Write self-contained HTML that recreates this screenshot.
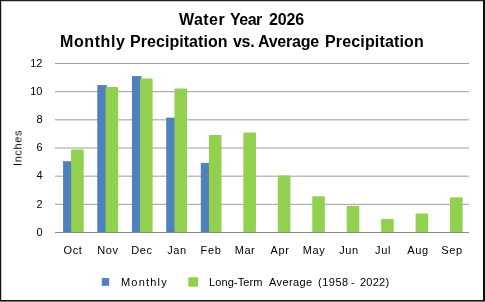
<!DOCTYPE html>
<html><head><meta charset="utf-8">
<style>
html,body{margin:0;padding:0;}
body{width:485px;height:302px;position:relative;overflow:hidden;background:#fff;font-family:"Liberation Sans",sans-serif;color:#000;}
.b{position:absolute;}
.tx{will-change:transform;}
.w{position:absolute;white-space:nowrap;line-height:normal;will-change:transform;}
.t1{position:absolute;left:0;width:485px;text-align:center;font-weight:bold;font-size:16px;line-height:18px;white-space:nowrap;}
.yl{position:absolute;left:0;width:42.5px;text-align:right;font-size:11px;line-height:13px;will-change:transform;}
.xl{position:absolute;top:243.5px;width:40px;text-align:center;font-size:11px;line-height:13px;letter-spacing:0.6px;will-change:transform;}
.lg{position:absolute;top:276.0px;font-size:11px;line-height:13px;white-space:nowrap;will-change:transform;}
svg{position:absolute;left:0;top:0;}
</style></head><body>
<svg width="485" height="302" viewBox="0 0 485 302">
<rect x="55" y="63.000" width="414" height="1" fill="#9e9e9e"/>
<rect x="55" y="91.167" width="414" height="1" fill="#9e9e9e"/>
<rect x="55" y="119.333" width="414" height="1" fill="#9e9e9e"/>
<rect x="55" y="147.500" width="414" height="1" fill="#9e9e9e"/>
<rect x="55" y="175.667" width="414" height="1" fill="#9e9e9e"/>
<rect x="55" y="203.833" width="414" height="1" fill="#9e9e9e"/>

<rect x="63.30" y="161.65" width="8.9" height="70.35" fill="#4f81bd" stroke="#4676b8" stroke-width="0.6"/>
<rect x="97.75" y="85.39999999999999" width="8.9" height="146.60" fill="#4f81bd" stroke="#4676b8" stroke-width="0.6"/>
<rect x="132.20" y="76.35" width="8.9" height="155.65" fill="#4f81bd" stroke="#4676b8" stroke-width="0.6"/>
<rect x="166.65" y="118.0" width="8.9" height="114.00" fill="#4f81bd" stroke="#4676b8" stroke-width="0.6"/>
<rect x="201.10" y="163.20000000000002" width="8.9" height="68.80" fill="#4f81bd" stroke="#4676b8" stroke-width="0.6"/>
<rect x="71.10" y="149.4" width="12.6" height="82.60" fill="#92d050" rx="1" ry="1"/>
<rect x="105.55" y="87.1" width="12.6" height="144.90" fill="#92d050" rx="1" ry="1"/>
<rect x="140.00" y="78.6" width="12.6" height="153.40" fill="#92d050" rx="1" ry="1"/>
<rect x="174.45" y="88.6" width="12.6" height="143.40" fill="#92d050" rx="1" ry="1"/>
<rect x="208.90" y="134.9" width="12.6" height="97.10" fill="#92d050" rx="1" ry="1"/>
<rect x="243.35" y="132.4" width="12.6" height="99.60" fill="#92d050" rx="1" ry="1"/>
<rect x="277.80" y="175.4" width="12.6" height="56.60" fill="#92d050" rx="1" ry="1"/>
<rect x="312.25" y="196.25" width="12.6" height="35.75" fill="#92d050" rx="1" ry="1"/>
<rect x="346.70" y="205.9" width="12.6" height="26.10" fill="#92d050" rx="1" ry="1"/>
<rect x="381.15" y="218.9" width="12.6" height="13.10" fill="#92d050" rx="1" ry="1"/>
<rect x="415.60" y="213.6" width="12.6" height="18.40" fill="#92d050" rx="1" ry="1"/>
<rect x="450.05" y="197.3" width="12.6" height="34.70" fill="#92d050" rx="1" ry="1"/>

<rect x="55" y="232" width="414" height="1" fill="#898989"/>
<rect x="101.8" y="278.1" width="7.4" height="7.7" fill="#4f81bd"/>
<rect x="188.3" y="277.2" width="9.9" height="9.6" rx="1.2" fill="#92d050"/>
</svg>
<div class="w" style="left:178.6px;top:10.8px;font-weight:bold;font-size:16px;line-height:18px;letter-spacing:0.45px">Water</div>
<div class="w" style="left:230.3px;top:10.8px;font-weight:bold;font-size:16px;line-height:18px;letter-spacing:-0.5px">Year</div>
<div class="w" style="left:268.8px;top:10.8px;font-weight:bold;font-size:16px;line-height:18px;letter-spacing:-0.15px">2026</div>
<div class="w" style="left:60.2px;top:33.0px;font-weight:bold;font-size:16px;line-height:18px;letter-spacing:0.6px">Monthly</div>
<div class="w" style="left:130.1px;top:33.0px;font-weight:bold;font-size:16px;line-height:18px;letter-spacing:0.05px">Precipitation</div>
<div class="w" style="left:232.9px;top:33.0px;font-weight:bold;font-size:16px;line-height:18px;letter-spacing:-0.3px">vs.</div>
<div class="w" style="left:258.4px;top:33.0px;font-weight:bold;font-size:16px;line-height:18px;letter-spacing:-0.25px">Average</div>
<div class="w" style="left:325.0px;top:33.0px;font-weight:bold;font-size:16px;line-height:18px;letter-spacing:0.15px">Precipitation</div>
<div class="w" style="left:120.7px;top:276.0px;font-weight:normal;font-size:11px;line-height:13px;letter-spacing:1.2px">Monthly</div>
<div class="w" style="left:208.6px;top:276.0px;font-weight:normal;font-size:11px;line-height:13px;letter-spacing:0.1px">Long-Term</div>
<div class="w" style="left:269.4px;top:276.0px;font-weight:normal;font-size:11px;line-height:13px;letter-spacing:0.4px">Average</div>
<div class="w" style="left:317.8px;top:276.0px;font-weight:normal;font-size:11px;line-height:13px;letter-spacing:0.5px">(1958</div>
<div class="w" style="left:350.5px;top:276.0px;font-weight:normal;font-size:11px;line-height:13px;letter-spacing:-0.5px">-</div>
<div class="w" style="left:359.8px;top:276.0px;font-weight:normal;font-size:11px;line-height:13px;letter-spacing:0.25px">2022)</div>

<div class="yl" style="top:56.80px">12</div>
<div class="yl" style="top:84.97px">10</div>
<div class="yl" style="top:113.13px">8</div>
<div class="yl" style="top:141.30px">6</div>
<div class="yl" style="top:169.47px">4</div>
<div class="yl" style="top:197.63px">2</div>
<div class="yl" style="top:225.80px">0</div>

<div class="xl" style="left:53.15px">Oct</div>
<div class="xl" style="left:87.60px">Nov</div>
<div class="xl" style="left:122.05px">Dec</div>
<div class="xl" style="left:156.50px">Jan</div>
<div class="xl" style="left:190.95px">Feb</div>
<div class="xl" style="left:225.40px">Mar</div>
<div class="xl" style="left:259.85px">Apr</div>
<div class="xl" style="left:294.30px">May</div>
<div class="xl" style="left:328.75px">Jun</div>
<div class="xl" style="left:363.20px">Jul</div>
<div class="xl" style="left:397.65px">Aug</div>
<div class="xl" style="left:432.10px">Sep</div>

<div class="tx" style="position:absolute;left:18.2px;top:147.8px;transform:translate(-50%,-50%) rotate(-90deg);font-size:11px;line-height:13px;white-space:nowrap;letter-spacing:0.6px">Inches</div>

<div class="b" style="left:0;top:0;width:485px;height:1px;background:#1e1e1e"></div>
<div class="b" style="left:0;top:1px;width:485px;height:1px;background:#c8c8c8"></div>
<div class="b" style="left:0;top:0;width:1px;height:302px;background:#111"></div>
<div class="b" style="left:1px;top:1px;width:1px;height:299px;background:#cccccc"></div>
<div class="b" style="left:483px;top:0;width:2px;height:302px;background:#0c0c0c"></div>
<div class="b" style="left:0;top:300px;width:485px;height:1px;background:#111"></div>
<div class="b" style="left:0;top:301px;width:485px;height:1px;background:#777"></div>
</body></html>
